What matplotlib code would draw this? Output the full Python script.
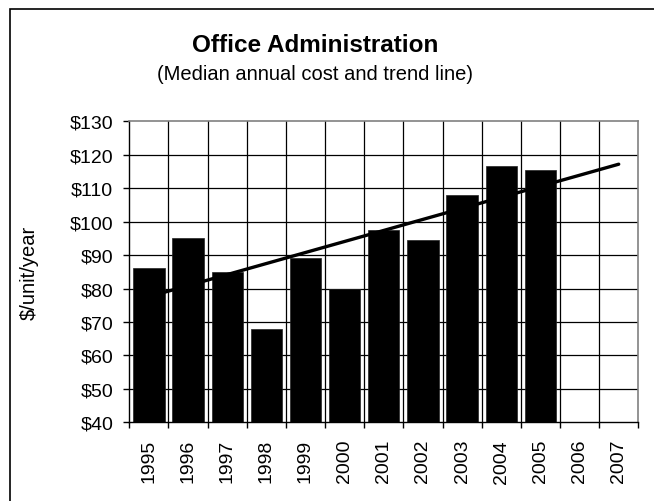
import numpy as np
import matplotlib.pyplot as plt
from matplotlib.patches import Rectangle

plt.rcParams['font.family'] = ['Liberation Sans', 'DejaVu Sans']

# Median annual cost per unit, 1995-2005 (2006/2007 are trend only)
years = [str(y) for y in range(1995, 2008)]
cost = [86, 95, 85, 68, 89, 80, 97.5, 94.5, 108, 116.5, 115.3]
y_ticks = list(range(40, 131, 10))

fig = plt.figure(figsize=(6.54, 5.02), dpi=100)
fig.patch.set_facecolor('white')

# Outer frame (only left and top edges fall inside the canvas)
fig.patches.append(Rectangle((10 / 654, -0.1), 1.2, 1 - 10 / 502 + 0.1,
                             transform=fig.transFigure, fill=False,
                             edgecolor='#000000', linewidth=1.2))

ax = fig.add_axes([129.3 / 654, (502 - 423.3) / 502,
                   (638.3 - 129.3) / 654, (423.3 - 122.3) / 502])

x = np.arange(len(years))
xb = x[:len(cost)]

ax.set_xlim(-0.5, len(years) - 0.5)
ax.set_ylim(40, 130)

# Grid: horizontal at each tick, vertical at category boundaries
for yv in y_ticks[1:-1]:
    ax.axhline(yv, color='#000000', linewidth=0.9, zorder=1)
for b in np.arange(0.5, len(years) - 1, 1):
    ax.axvline(b, color='#000000', linewidth=0.9, zorder=1)

ax.bar(xb, cost, width=0.8, bottom=0, color='black', edgecolor='#222222',
       linewidth=0.5, zorder=2)

# Linear trend fitted to the observed years, extended to 2007
slope, icpt = np.polyfit(xb, cost, 1)
ax.plot([x[0], x[-1]], [icpt + slope * x[0], icpt + slope * x[-1]],
        color='black', linewidth=2.4, solid_capstyle='round', zorder=3)

ax.set_yticks(y_ticks)
ax.set_yticklabels(['$%d' % v for v in y_ticks], fontsize=14)
ax.set_xticks(x)
ax.set_xticklabels(years, rotation=90, fontsize=14)
ax.set_xticks(np.arange(-0.5, len(years), 1), minor=True)
ax.tick_params(axis='x', which='major', length=0, pad=12)
ax.tick_params(axis='x', which='minor', length=4.5, direction='out', width=1)
ax.tick_params(axis='y', length=4.5, direction='out', width=1, pad=7)

for side in ('top', 'right'):
    ax.spines[side].set_color('#808080')
    ax.spines[side].set_linewidth(1.2)
for side in ('left', 'bottom'):
    ax.spines[side].set_color('black')
    ax.spines[side].set_linewidth(1.0)

ax.set_ylabel('$/unit/year', fontsize=14.5)
ax.yaxis.set_label_coords(-(129.3 - 39) / (638.3 - 129.3), 0.5)

fig.text(315 / 654, 1 - 52 / 502, 'Office Administration', ha='center',
         va='baseline', fontsize=17.5, fontweight='bold')
fig.text(315 / 654, 1 - 80 / 502, '(Median annual cost and trend line)',
         ha='center', va='baseline', fontsize=14.5)

fig.savefig('out.png', dpi=100)
